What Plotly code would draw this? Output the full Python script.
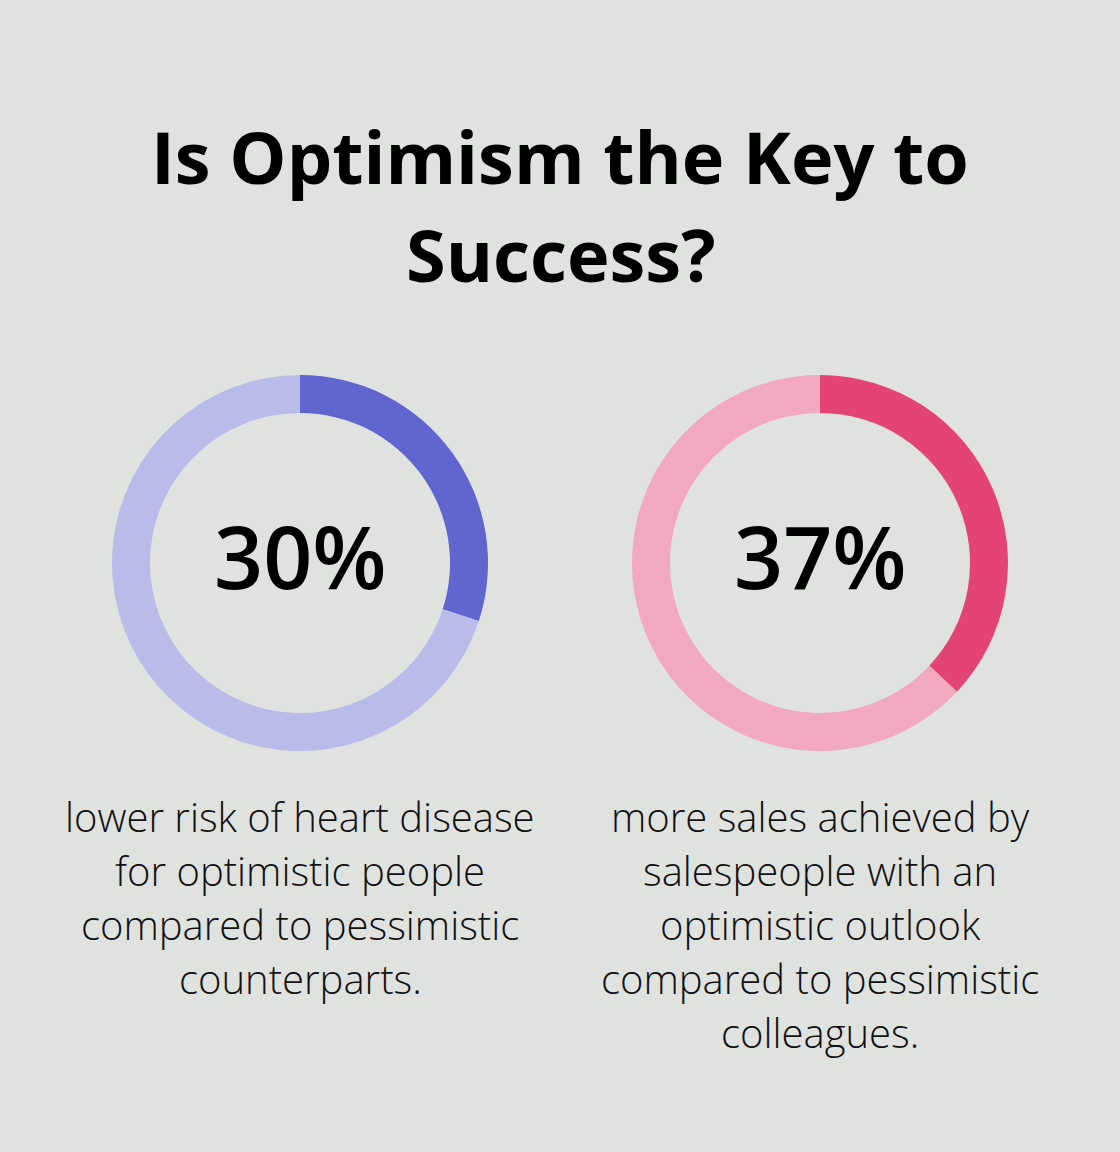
import plotly.graph_objects as go

W, H = 1120, 1152

title_lines = ["Is Optimism the Key to", "Success?"]
labels = ["Share", "Rest"]
values_left = [30, 70]
values_right = [37, 63]
center_text = ["30%", "37%"]
desc_left = ["lower risk of heart disease", "for optimistic people",
             "compared to pessimistic", "counterparts."]
desc_right = ["more sales achieved by", "salespeople with an",
              "optimistic outlook", "compared to pessimistic", "colleagues."]

BG = "#E0E2E0"
colors_left = ["#6065D0", "#B9BBEA"]
colors_right = ["#E44475", "#F2A8BE"]

def px(x):
    return x / W

def py(y):
    return 1 - y / H

fig = go.Figure()

R = 188
for cx, vals, cols in [(300, values_left, colors_left), (820, values_right, colors_right)]:
    fig.add_trace(go.Pie(
        labels=labels, values=vals, hole=150 / R, sort=False,
        direction="clockwise", rotation=0,
        marker=dict(colors=cols, line=dict(width=0)),
        textinfo="none", hoverinfo="skip", showlegend=False,
        domain=dict(x=[px(cx - R), px(cx + R)], y=[py(563 + R), py(563 - R)]),
    ))

annotations = []
title_base = [184, 282]
for line, b in zip(title_lines, title_base):
    annotations.append(dict(
        text=line, x=0.5, y=py(b - 0.388 * 72), xref="paper", yref="paper",
        xanchor="center", yanchor="middle", showarrow=False,
        font=dict(family="Open Sans", size=72, color="#000000", weight=700)))

NUM = 86
for cx, t in zip([300, 820], center_text):
    annotations.append(dict(
        text=t, x=px(cx), y=py(589 - 0.388 * NUM), xref="paper", yref="paper",
        xanchor="center", yanchor="middle", showarrow=False,
        font=dict(family="Open Sans", size=NUM, color="#000000", weight=600)))

DS = 40
for cx, lines in [(300, desc_left), (820, desc_right)]:
    for i, line in enumerate(lines):
        b = 832 + 54 * i
        annotations.append(dict(
            text=line, x=px(cx), y=py(b - 0.388 * DS), xref="paper", yref="paper",
            xanchor="center", yanchor="middle", showarrow=False,
            font=dict(family="Open Sans", size=DS, color="#111111", weight=300)))

fig.update_layout(
    width=W, height=H, margin=dict(l=0, r=0, t=0, b=0),
    paper_bgcolor=BG, plot_bgcolor=BG,
    annotations=annotations,
)

fig.write_html("out.html", config={"displayModeBar": False},
               post_script="document.body.style.margin='0';document.body.style.background='" + BG + "';")
